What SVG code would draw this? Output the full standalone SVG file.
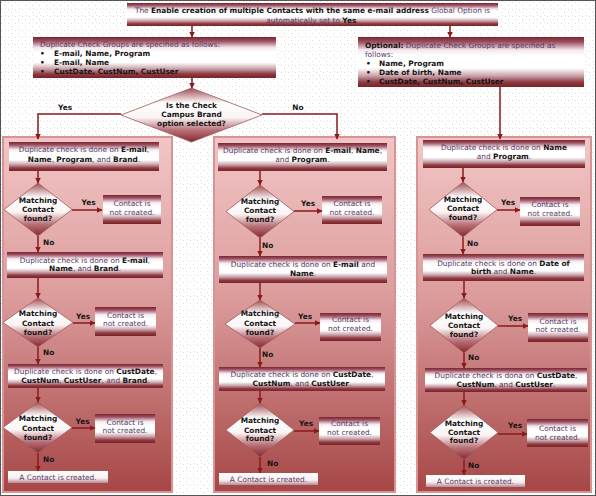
<svg xmlns="http://www.w3.org/2000/svg" width="596" height="496" viewBox="0 0 596 496">
<defs>
<pattern id="dots" width="7" height="7" patternUnits="userSpaceOnUse">
<rect width="7" height="7" fill="#ffffff"/>
<rect x="1" y="2" width="1" height="1" fill="#d6d6ec"/>
<rect x="4" y="5" width="1" height="1" fill="#ecd6d6"/>
<rect x="5" y="1" width="1" height="1" fill="#d9ecd9"/>
</pattern>
<linearGradient id="boxG" x1="0" y1="0" x2="0" y2="1">
<stop offset="0" stop-color="#7a2430"/>
<stop offset="0.1" stop-color="#9c5060"/>
<stop offset="0.26" stop-color="#f4e8ee"/>
<stop offset="0.38" stop-color="#ffffff"/>
<stop offset="0.62" stop-color="#ffffff"/>
<stop offset="0.78" stop-color="#c8a0a8"/>
<stop offset="0.9" stop-color="#8e3a40"/>
<stop offset="1" stop-color="#7a2228"/>
</linearGradient>
<linearGradient id="diaG" x1="0" y1="0" x2="0" y2="1">
<stop offset="0" stop-color="#a04a50"/>
<stop offset="0.28" stop-color="#ffffff"/>
<stop offset="0.55" stop-color="#fbf4f4"/>
<stop offset="0.78" stop-color="#b87078"/>
<stop offset="1" stop-color="#86282c"/>
</linearGradient>
<linearGradient id="panG" x1="0" y1="0" x2="0" y2="1">
<stop offset="0" stop-color="#f2c6c6"/>
<stop offset="0.45" stop-color="#dc9c9c"/>
<stop offset="1" stop-color="#a64646"/>
</linearGradient>
<linearGradient id="finG" x1="0" y1="0" x2="0" y2="1">
<stop offset="0" stop-color="#ffffff"/>
<stop offset="0.6" stop-color="#f8eeee"/>
<stop offset="1" stop-color="#b88890"/>
</linearGradient>
<marker id="ah" markerWidth="6" markerHeight="6" refX="5.5" refY="3" orient="auto" markerUnits="userSpaceOnUse">
<path d="M0,0 L6,3 L0,6 z" fill="#8b1a1a"/>
</marker>
<style>
text{font-family:"DejaVu Sans","Liberation Sans",sans-serif;font-size:7.4px;fill:#553d66}
.c{text-anchor:middle}
.b{font-weight:bold;fill:#151515}
.lbl{font-weight:bold;fill:#151515;text-anchor:middle}
.box{fill:url(#boxG)}
.dia{fill:url(#diaG);stroke:#a05a5a;stroke-width:0.8}
.pan{fill:url(#panG);stroke:#d89494;stroke-width:2}
.fin{fill:url(#finG)}
.con{fill:none;stroke:#8b1a1a;stroke-width:1.5;marker-end:url(#ah)}
</style>
</defs>
<rect x="0" y="0" width="596" height="496" fill="url(#dots)"/>
<rect x="0.5" y="0.5" width="595" height="495" fill="none" stroke="#555555" stroke-width="1"/>

<g id="panel-left"><rect class="pan" x="3" y="137" width="169" height="355"/></g>
<g id="panel-middle"><rect class="pan" x="214" y="137" width="181" height="355"/></g>
<g id="panel-right"><rect class="pan" x="417" y="137" width="174" height="355"/></g>

<g id="top">
<rect class="box" x="127" y="3" width="371" height="23"/>
<text class="c" x="312.5" y="12.5">The <tspan class="b">Enable creation of multiple Contacts with the same e-mail address</tspan> Global Option is</text>
<text class="c" x="312.5" y="22.5">automatically set to <tspan class="b">Yes</tspan>.</text>
</g>

<g id="groups-left">
<rect class="box" x="33" y="37" width="243" height="41"/>
<text x="40" y="46.5">Duplicate Check Groups are specified as follows:</text>
<text class="b" x="40" y="55.5">•</text><text class="b" x="54" y="55.5">E-mail, Name, Program</text>
<text class="b" x="40" y="64.5">•</text><text class="b" x="54" y="64.5">E-mail, Name</text>
<text class="b" x="40" y="73.5">•</text><text class="b" x="54" y="73.5">CustDate, CustNum, CustUser</text>
</g>

<g id="groups-right">
<rect class="box" x="358" y="37" width="226" height="50"/>
<text x="365" y="47.5"><tspan class="b">Optional:</tspan> Duplicate Check Groups are specified as</text>
<text x="365" y="56.5">follows:</text>
<text class="b" x="366" y="65.5">•</text><text class="b" x="379" y="65.5">Name, Program</text>
<text class="b" x="366" y="74.5">•</text><text class="b" x="379" y="74.5">Date of birth, Name</text>
<text class="b" x="366" y="83.5">•</text><text class="b" x="379" y="83.5">CustDate, CustNum, CustUser</text>
</g>

<g id="brand-decision">
<polygon class="dia" points="191.5,88 262,115 191.5,142 121,115"/>
<text class="lbl" x="191.5" y="107.5">Is the Check</text>
<text class="lbl" x="191.5" y="116.5">Campus Brand</text>
<text class="lbl" x="191.5" y="125.5">option selected?</text>
</g>

<!-- Left column -->
<g id="L-check1">
<rect class="box" x="9" y="142" width="150" height="29"/>
<text class="c" x="84" y="151.5">Duplicate check is done on <tspan class="b">E-mail</tspan>,</text>
<text class="c" x="84" y="161.5"><tspan class="b">Name</tspan>, <tspan class="b">Program</tspan>, and <tspan class="b">Brand</tspan>.</text>
</g>
<g id="L-dec1">
<polygon class="dia" points="38,183 72,209.5 38,236 4,209.5"/>
<text class="lbl" x="38" y="202.5">Matching</text>
<text class="lbl" x="38" y="211.5">Contact</text>
<text class="lbl" x="38" y="220.5">found?</text>
</g>
<g id="L-not1">
<rect class="box" x="103" y="195" width="58" height="29"/>
<text class="c" x="132" y="205.5">Contact is</text>
<text class="c" x="132" y="214.5">not created.</text>
</g>
<g id="L-check2">
<rect class="box" x="7" y="252" width="156" height="26"/>
<text class="c" x="85" y="262.5">Duplicate check is done on <tspan class="b">E-mail</tspan>,</text>
<text class="c" x="85" y="270.5"><tspan class="b">Name</tspan>, and <tspan class="b">Brand</tspan>.</text>
</g>
<g id="L-dec2">
<polygon class="dia" points="38,298 73,322.5 38,347 3,322.5"/>
<text class="lbl" x="38" y="315.5">Matching</text>
<text class="lbl" x="38" y="325.5">Contact</text>
<text class="lbl" x="38" y="334.5">found?</text>
</g>
<g id="L-not2">
<rect class="box" x="95" y="307" width="61" height="29"/>
<text class="c" x="125.5" y="317.5">Contact is</text>
<text class="c" x="125.5" y="325.5">not created.</text>
</g>
<g id="L-check3">
<rect class="box" x="8" y="364" width="155" height="24"/>
<text class="c" x="85.5" y="373.5">Duplicate check is done on <tspan class="b">CustDate</tspan>,</text>
<text class="c" x="85.5" y="382.5"><tspan class="b">CustNum</tspan>, <tspan class="b">CustUser</tspan>, and <tspan class="b">Brand</tspan>.</text>
</g>
<g id="L-dec3">
<polygon class="dia" points="38,402 72,427.5 38,453 3,427.5"/>
<text class="lbl" x="38" y="420.5">Matching</text>
<text class="lbl" x="38" y="430.5">Contact</text>
<text class="lbl" x="38" y="439.5">found?</text>
</g>
<g id="L-not3">
<rect class="box" x="95" y="414" width="60" height="29"/>
<text class="c" x="125" y="424.5">Contact is</text>
<text class="c" x="125" y="432.5">not created.</text>
</g>
<g id="L-created">
<rect class="fin" x="8" y="471" width="100" height="12"/>
<text class="c" x="58" y="479.5">A Contact is created.</text>
</g>

<!-- Middle column -->
<g id="M-check1">
<rect class="box" x="218" y="143" width="169" height="28"/>
<text class="c" x="302.5" y="152.5">Duplicate check is done on <tspan class="b">E-mail</tspan>, <tspan class="b">Name</tspan>,</text>
<text class="c" x="302.5" y="161.5">and <tspan class="b">Program</tspan>.</text>
</g>
<g id="M-dec1">
<polygon class="dia" points="260,185 294,211.5 260,238 226,211.5"/>
<text class="lbl" x="260" y="203.5">Matching</text>
<text class="lbl" x="260" y="212.5">Contact</text>
<text class="lbl" x="260" y="221.5">found?</text>
</g>
<g id="M-not1">
<rect class="box" x="322" y="196" width="60" height="28"/>
<text class="c" x="352" y="205.5">Contact is</text>
<text class="c" x="352" y="214.5">not created.</text>
</g>
<g id="M-check2">
<rect class="box" x="219" y="256" width="168" height="27"/>
<text class="c" x="303" y="266.5">Duplicate check is done on <tspan class="b">E-mail</tspan> and</text>
<text class="c" x="303" y="275.5"><tspan class="b">Name</tspan>.</text>
</g>
<g id="M-dec2">
<polygon class="dia" points="260,300 295,324 260,348 225,324"/>
<text class="lbl" x="260" y="315.5">Matching</text>
<text class="lbl" x="260" y="325.5">Contact</text>
<text class="lbl" x="260" y="334.5">found?</text>
</g>
<g id="M-not2">
<rect class="box" x="320" y="313" width="61" height="28"/>
<text class="c" x="350.5" y="321.5">Contact is</text>
<text class="c" x="350.5" y="330.5">not created.</text>
</g>
<g id="M-check3">
<rect class="box" x="219" y="367" width="166" height="24"/>
<text class="c" x="302" y="376.5">Duplicate check is done on <tspan class="b">CustDate</tspan>,</text>
<text class="c" x="302" y="385.5"><tspan class="b">CustNum</tspan>, and <tspan class="b">CustUser</tspan>.</text>
</g>
<g id="M-dec3">
<polygon class="dia" points="260,403 294,430 260,457 226,430"/>
<text class="lbl" x="260" y="422.5">Matching</text>
<text class="lbl" x="260" y="432.5">Contact</text>
<text class="lbl" x="260" y="440.5">found?</text>
</g>
<g id="M-not3">
<rect class="box" x="319" y="417" width="61" height="28"/>
<text class="c" x="349.5" y="425.5">Contact is</text>
<text class="c" x="349.5" y="434.5">not created.</text>
</g>
<g id="M-created">
<rect class="fin" x="219" y="473" width="99" height="12"/>
<text class="c" x="268.5" y="481.5">A Contact is created.</text>
</g>

<!-- Right column -->
<g id="R-check1">
<rect class="box" x="423" y="140" width="162" height="28"/>
<text class="c" x="504" y="149.5">Duplicate check is done on <tspan class="b">Name</tspan></text>
<text class="c" x="504" y="158.5">and <tspan class="b">Program</tspan>.</text>
</g>
<g id="R-dec1">
<polygon class="dia" points="463,182 497,209.5 463,237 429,209.5"/>
<text class="lbl" x="463" y="201.5">Matching</text>
<text class="lbl" x="463" y="210.5">Contact</text>
<text class="lbl" x="463" y="219.5">found?</text>
</g>
<g id="R-not1">
<rect class="box" x="520" y="197" width="60" height="29"/>
<text class="c" x="550" y="206.5">Contact is</text>
<text class="c" x="550" y="215.5">not created.</text>
</g>
<g id="R-check2">
<rect class="box" x="423" y="254" width="161" height="27"/>
<text class="c" x="503.5" y="265.5">Duplicate check is done on <tspan class="b">Date of</tspan></text>
<text class="c" x="503.5" y="273.5"><tspan class="b">birth</tspan> and <tspan class="b">Name</tspan>.</text>
</g>
<g id="R-dec2">
<polygon class="dia" points="464,298 498,325.5 464,353 430,325.5"/>
<text class="lbl" x="464" y="318.5">Matching</text>
<text class="lbl" x="464" y="327.5">Contact</text>
<text class="lbl" x="464" y="336.5">found?</text>
</g>
<g id="R-not2">
<rect class="box" x="528" y="313" width="60" height="29"/>
<text class="c" x="558" y="323.5">Contact is</text>
<text class="c" x="558" y="331.5">not created.</text>
</g>
<g id="R-check3">
<rect class="box" x="425" y="368" width="162" height="24"/>
<text class="c" x="506" y="377.5">Duplicate check is dona on <tspan class="b">CustDate</tspan>,</text>
<text class="c" x="506" y="386.5"><tspan class="b">CustNum</tspan>, and <tspan class="b">CustUser</tspan>.</text>
</g>
<g id="R-dec3">
<polygon class="dia" points="464,405 498,432.5 464,460 430,432.5"/>
<text class="lbl" x="464" y="425.5">Matching</text>
<text class="lbl" x="464" y="434.5">Contact</text>
<text class="lbl" x="464" y="442.5">found?</text>
</g>
<g id="R-not3">
<rect class="box" x="527" y="419" width="61" height="28"/>
<text class="c" x="557.5" y="430.5">Contact is</text>
<text class="c" x="557.5" y="439.5">not created.</text>
</g>
<g id="R-created">
<rect class="fin" x="426" y="475" width="99" height="12"/>
<text class="c" x="475.5" y="483.5">A Contact is created.</text>
</g>

<g id="connectors">
<path class="con" d="M192,26 V37"/>
<path class="con" d="M450,26 V37"/>
<path class="con" d="M192,78 V88"/>
<path class="con" d="M121,114 H38 V139"/>
<path class="con" d="M262,114 H337 V139"/>
<path class="con" d="M500,87 V139"/>
<path class="con" d="M38,171 V183"/>
<path class="con" d="M72,210 H102"/>
<path class="con" d="M38,236 V252"/>
<path class="con" d="M38,278 V298"/>
<path class="con" d="M73,323 H95"/>
<path class="con" d="M38,347 V364"/>
<path class="con" d="M38,388 V402"/>
<path class="con" d="M72,428 H95"/>
<path class="con" d="M38,453 V471"/>
<path class="con" d="M260,171 V185"/>
<path class="con" d="M294,211 H322"/>
<path class="con" d="M260,238 V256"/>
<path class="con" d="M260,283 V300"/>
<path class="con" d="M295,323 H320"/>
<path class="con" d="M260,348 V367"/>
<path class="con" d="M260,391 V403"/>
<path class="con" d="M294,431 H319"/>
<path class="con" d="M260,457 V473"/>
<path class="con" d="M463,168 V182"/>
<path class="con" d="M497,210 H520"/>
<path class="con" d="M463,237 V254"/>
<path class="con" d="M464,281 V298"/>
<path class="con" d="M498,326 H528"/>
<path class="con" d="M464,353 V368"/>
<path class="con" d="M464,392 V405"/>
<path class="con" d="M498,434 H527"/>
<path class="con" d="M464,460 V475"/>
</g>

<g id="labels">
<text class="lbl" x="65" y="109.5">Yes</text>
<text class="lbl" x="298" y="109.5">No</text>
<text class="lbl" x="88.5" y="204.5">Yes</text>
<text x="43" y="244.5" class="b">No</text>
<text class="lbl" x="83" y="318.5">Yes</text>
<text x="43" y="354.5" class="b">No</text>
<text class="lbl" x="82.5" y="423.5">Yes</text>
<text x="43" y="461.5" class="b">No</text>
<text class="lbl" x="308" y="205.5">Yes</text>
<text x="262" y="247.5" class="b">No</text>
<text class="lbl" x="305" y="318.5">Yes</text>
<text x="262" y="356.5" class="b">No</text>
<text class="lbl" x="306" y="425.5">Yes</text>
<text x="267" y="465.5" class="b">No</text>
<text class="lbl" x="508" y="204.5">Yes</text>
<text x="467" y="245.5" class="b">No</text>
<text class="lbl" x="515" y="320.5">Yes</text>
<text x="468" y="359.5" class="b">No</text>
<text class="lbl" x="515" y="427.5">Yes</text>
<text x="468" y="467.5" class="b">No</text>
</g>
</svg>
